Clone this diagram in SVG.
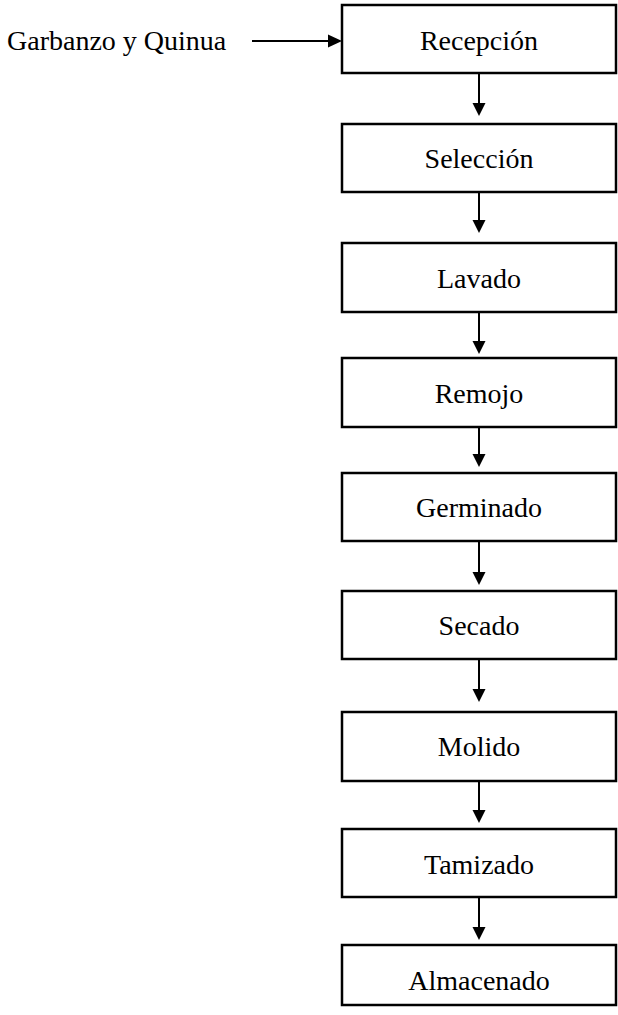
<svg xmlns="http://www.w3.org/2000/svg" width="618" height="1015" viewBox="0 0 618 1015">
<defs>
<style>
.box{fill:#fff;stroke:#000;stroke-width:2.5}
.lbl{font-family:"Liberation Serif","Times New Roman",serif;font-size:28px;fill:#000;text-anchor:middle}
.src{font-family:"Liberation Serif","Times New Roman",serif;font-size:28px;fill:#000}
.con{stroke:#000;stroke-width:2;fill:none}
.head{fill:#000;stroke:none}
</style>
</defs>
<rect width="618" height="1015" fill="#fff"/>
<text class="src" x="7" y="50">Garbanzo y Quinua</text>
<g id="connectors">
<line class="con" x1="252" y1="41" x2="330" y2="41"/>
<polygon class="head" points="342,41 328,34.5 328,47.5"/>
<line class="con" x1="479" y1="73" x2="479" y2="104"/>
<polygon class="head" points="479,116 472.5,103 485.5,103"/>
<line class="con" x1="479" y1="192" x2="479" y2="221"/>
<polygon class="head" points="479,233 472.5,220 485.5,220"/>
<line class="con" x1="479" y1="312" x2="479" y2="342"/>
<polygon class="head" points="479,354 472.5,341 485.5,341"/>
<line class="con" x1="479" y1="427" x2="479" y2="455"/>
<polygon class="head" points="479,467 472.5,454 485.5,454"/>
<line class="con" x1="479" y1="541" x2="479" y2="573"/>
<polygon class="head" points="479,585 472.5,572 485.5,572"/>
<line class="con" x1="479" y1="659" x2="479" y2="690"/>
<polygon class="head" points="479,702 472.5,689 485.5,689"/>
<line class="con" x1="479" y1="781" x2="479" y2="811"/>
<polygon class="head" points="479,823 472.5,810 485.5,810"/>
<line class="con" x1="479" y1="897" x2="479" y2="928"/>
<polygon class="head" points="479,940 472.5,927 485.5,927"/>
</g>
<g id="n1"><rect class="box" x="342" y="5" width="274" height="68"/><text class="lbl" x="479" y="50">Recepción</text></g>
<g id="n2"><rect class="box" x="342" y="124" width="274" height="68"/><text class="lbl" x="479" y="168">Selección</text></g>
<g id="n3"><rect class="box" x="342" y="243" width="274" height="69"/><text class="lbl" x="479" y="288">Lavado</text></g>
<g id="n4"><rect class="box" x="342" y="358" width="274" height="69"/><text class="lbl" x="479" y="403">Remojo</text></g>
<g id="n5"><rect class="box" x="342" y="473" width="274" height="68"/><text class="lbl" x="479" y="517">Germinado</text></g>
<g id="n6"><rect class="box" x="342" y="591" width="274" height="68"/><text class="lbl" x="479" y="635">Secado</text></g>
<g id="n7"><rect class="box" x="342" y="712" width="274" height="69"/><text class="lbl" x="479" y="756">Molido</text></g>
<g id="n8"><rect class="box" x="342" y="829" width="274" height="68"/><text class="lbl" x="479" y="874">Tamizado</text></g>
<g id="n9"><rect class="box" x="342" y="945" width="274" height="60"/><text class="lbl" x="479" y="990">Almacenado</text></g>
</svg>
